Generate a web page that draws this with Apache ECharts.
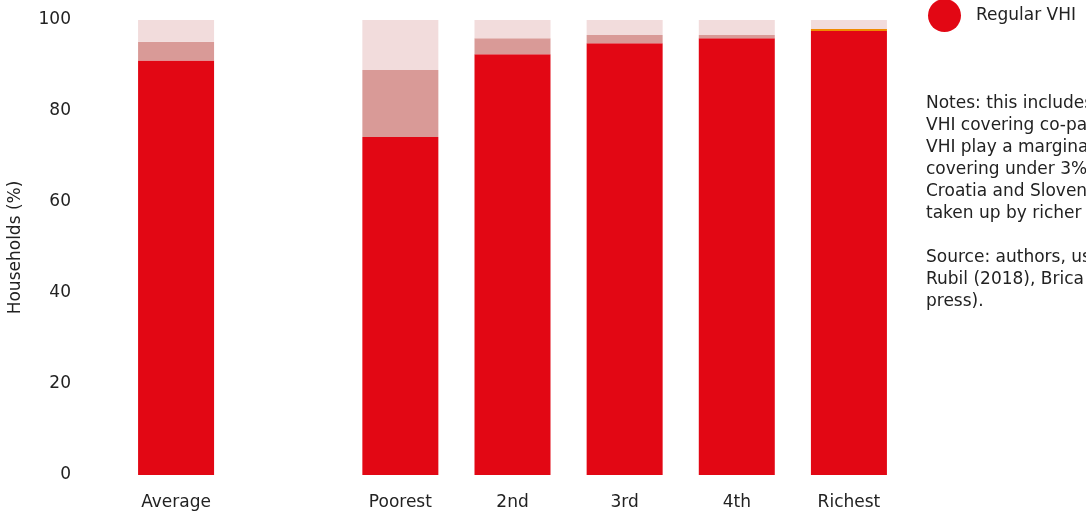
<!DOCTYPE html>
<html>
<head>
<meta charset="utf-8">
<script src="https://cdn.jsdelivr.net/npm/echarts@6/dist/echarts.min.js"></script>
<style>
html,body{margin:0;padding:0;background:#fff;}
#chart{width:1086px;height:514px;}
</style>
</head>
<body>
<div id="chart"></div>
<script>
const categories = ['Average', '', 'Poorest', '2nd', '3rd', '4th', 'Richest'];
const regularVHI = [91.1, '-', 74.3, 92.5, 94.9, 96.0, 97.6];
const otherVHI = [0, '-', 0, 0, 0, 0, 0.4];
const complementaryVHI = [4.1, '-', 14.7, 3.5, 1.8, 0.7, 0];
const noVHI = [4.8, '-', 11.0, 4.0, 3.3, 3.3, 2.0];
const yTicks = [0, 20, 40, 60, 80, 100];
const notesLines = [
  'Notes: this includes complementary',
  'VHI covering co-payments. Other forms of',
  'VHI play a marginal role in Croatia,',
  'covering under 3% of households. In',
  'Croatia and Slovenia, VHI is more likely',
  'taken up by richer households.',
  '',
  'Source: authors, using data from',
  'Rubil (2018), Brica (2018) and Zaletel (in',
  'press).'
];

const FONT = '"DejaVu Sans", "Noto Sans", sans-serif';
const FS = 17;
const chart = echarts.init(document.getElementById('chart'));
const barW = 76;
function mk(name, data, color) {
  return { name, type: 'bar', stack: 'total', data, barWidth: barW,
    itemStyle: { color }, emphasis: { disabled: true } };
}
chart.setOption({
  animation: false,
  textStyle: { fontFamily: FONT },
  grid: { left: 120, width: 785, top: 20, height: 455, outerBoundsMode: 'none', containLabel: false },
  legend: {
    data: ['Regular VHI'],
    left: 923, top: -6,
    icon: 'circle', itemWidth: 33, itemHeight: 33, itemGap: 16,
    textStyle: { fontSize: FS, color: '#222', fontFamily: FONT, padding: [0, 0, 0, 10] }
  },
  xAxis: {
    type: 'category', data: categories,
    axisLine: { show: false }, axisTick: { show: false },
    axisLabel: { fontSize: FS, color: '#222', margin: 19, interval: 0 }
  },
  yAxis: {
    type: 'value', min: yTicks[0], max: yTicks[yTicks.length - 1], interval: 20,
    name: 'Households (%)', nameLocation: 'middle', nameGap: 96,
    nameTextStyle: { fontSize: FS, color: '#222' },
    axisLine: { show: false }, axisTick: { show: false }, splitLine: { show: false },
    axisLabel: { fontSize: FS, color: '#222', margin: 49 }
  },
  graphic: [{
    type: 'text', left: 926, top: 93,
    style: { text: notesLines.join('\n'), fontSize: FS, lineHeight: 22, fill: '#222', fontFamily: FONT }
  }],
  series: [
    mk('Regular VHI', regularVHI, '#E20714'),
    mk('Other VHI', otherVHI, '#F08A00'),
    mk('Complementary VHI', complementaryVHI, '#D99A97'),
    mk('No VHI', noVHI, '#F2DCDC')
  ]
});
</script>
</body>
</html>
